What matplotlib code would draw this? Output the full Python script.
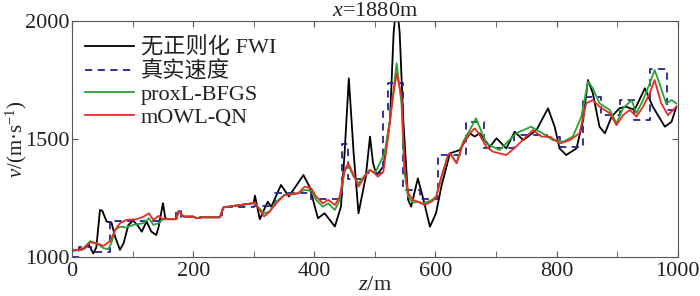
import matplotlib
matplotlib.use("Agg")
import matplotlib.pyplot as plt
from matplotlib.ticker import MultipleLocator

plt.rcParams['font.family'] = ['Liberation Serif', 'Noto Sans CJK SC', 'DejaVu Sans']
plt.rcParams['mathtext.fontset'] = 'custom'
plt.rcParams['mathtext.rm'] = 'Liberation Serif'
plt.rcParams['mathtext.it'] = 'Liberation Serif:italic'

# ---- data ----
z_fwi = [0, 10, 20, 27, 35, 40, 46, 50, 57, 65, 71, 79, 85, 93, 101, 109, 115, 123, 131, 139, 143, 150, 154,
         160, 172, 176, 184, 200, 206, 215, 244, 250, 300,
         302, 310, 323, 329, 345, 358, 382, 392, 406, 417, 434, 444, 450, 457, 465, 473, 485, 492, 497, 503,
         514, 525, 531, 536, 541, 547, 555, 560, 571, 579, 591, 601, 610, 624, 640, 657, 665, 673, 690, 701,
         717, 731, 745, 767, 786, 797, 805, 816, 833, 844, 852, 860, 871, 880, 891, 904, 915, 929, 946, 959,
         979, 990, 998]
v_fwi = [1030, 1030, 1035, 1055, 1015, 1040, 1199, 1195, 1150, 1146, 1086, 1030, 1058, 1136, 1154, 1131, 1107, 1150, 1107, 1093, 1128, 1228, 1164,
         1160, 1160, 1195, 1171, 1171, 1164, 1168, 1168, 1210, 1228,
         1260, 1160, 1234, 1213, 1305, 1256, 1347, 1298, 1164, 1185, 1129, 1213, 1439, 1757, 1439, 1185, 1340, 1510, 1397, 1347,
         1383, 1581, 1950, 2080, 1950, 1581, 1242, 1213, 1333, 1256, 1128, 1185, 1300, 1439, 1453, 1524, 1510, 1524, 1467, 1503,
         1460, 1531, 1495, 1538, 1630, 1552, 1460, 1432, 1460, 1580, 1750, 1694, 1552, 1524, 1595, 1630, 1637, 1623, 1715, 1637,
         1552, 1573, 1637]

z_true = [0, 12, 32, 62, 150, 172, 180, 205, 212, 248, 300, 335, 395, 446, 456, 485, 513, 522, 546, 575,
          605, 650, 680, 730, 785, 805, 843, 873, 905, 928, 955, 982, 1000]
v_true = [1000, 1040, 1020, 1152, 1160, 1195, 1170, 1163, 1168, 1210, 1215, 1270, 1245, 1480, 1330, 1355, 1623, 1736, 1284, 1245,
          1430, 1573, 1460, 1517, 1510, 1467, 1680, 1600, 1665, 1580, 1795, 1623, 1623]

z_prox = [0, 16, 30, 41, 52, 60, 65, 71, 79, 90, 101, 118, 127, 134, 143, 150,
          172, 176, 184, 200, 206, 215, 244, 250, 300,
          302, 317, 326, 337, 351, 368, 384, 395, 403, 414, 423, 434, 442, 450, 456, 465, 473, 483, 492, 500, 508,
          516, 525, 536, 544, 549, 555, 563, 571, 580, 593, 601, 610, 621, 624, 635, 646, 657, 667, 684, 706, 733,
          758, 777, 794, 811, 827, 841, 852, 860, 871, 888, 899, 910, 924, 932, 943, 954, 962, 970, 981, 990, 998]
v_prox = [1025, 1030, 1067, 1057, 1037, 1033, 1060, 1114, 1128, 1125, 1136, 1143, 1164, 1136, 1143, 1160,
          1160, 1195, 1171, 1171, 1164, 1168, 1168, 1210, 1228,
          1225, 1185, 1192, 1234, 1263, 1266, 1284, 1280, 1242, 1213, 1227, 1199, 1242, 1361, 1390, 1340, 1312, 1345, 1369, 1354, 1397,
          1439, 1581, 1821, 1651, 1354, 1256, 1230, 1234, 1227, 1240, 1255, 1340, 1432, 1439, 1400, 1490, 1538, 1588, 1481, 1453, 1524,
          1552, 1524, 1495, 1488, 1510, 1594, 1743, 1715, 1651, 1623, 1566, 1630, 1665, 1609, 1665, 1736, 1792, 1736, 1651, 1665, 1651]

z_mowl = [0, 16, 30, 41, 52, 63, 71, 79, 90, 107, 118, 127, 134, 143, 150,
          172, 176, 184, 200, 206, 215, 244, 250, 300,
          302, 317, 326, 337, 351, 368, 373, 384, 395, 403, 414, 423, 434, 442, 450, 456, 465, 473, 483, 492, 500, 505,
          514, 522, 530, 536, 544, 549, 555, 563, 571, 582, 593, 601, 610, 621, 624, 635, 646, 657, 665, 673, 684, 695,
          717, 733, 750, 761, 775, 789, 805, 822, 838, 849, 860, 871, 888, 899, 910, 921, 932, 943, 954, 962, 973, 984, 998]
v_mowl = [1030, 1030, 1062, 1057, 1047, 1067, 1114, 1143, 1157, 1160, 1171, 1185, 1157, 1174, 1160,
          1160, 1195, 1171, 1171, 1164, 1168, 1168, 1210, 1228,
          1230, 1171, 1192, 1227, 1263, 1270, 1268, 1298, 1291, 1256, 1227, 1242, 1220, 1256, 1369, 1397, 1347, 1298, 1340, 1369, 1354, 1340,
          1361, 1510, 1680, 1778, 1680, 1383, 1270, 1242, 1234, 1220, 1234, 1249, 1340, 1432, 1439, 1397, 1481, 1524, 1545, 1517, 1467, 1446,
          1432, 1467, 1510, 1538, 1510, 1510, 1481, 1495, 1524, 1651, 1665, 1637, 1609, 1559, 1601, 1623, 1595, 1637, 1694, 1750, 1651, 1601, 1637]

labels = ['无正则化 FWI', '真实速度', 'proxL-BFGS', 'mOWL-QN']

fig = plt.figure(figsize=(7.0, 2.96), dpi=100)
ax = fig.add_axes([0.103, 0.132, 0.865, 0.797])

ax.plot(z_fwi, v_fwi, color='black', lw=1.3, label=labels[0])
ax.plot(z_true, v_true, color='#2b1e94', lw=1.3, ls=(0, (4, 3)), drawstyle='steps-post', label=labels[1])
ax.plot(z_prox, v_prox, color='#25a531', lw=1.3, label=labels[2])
ax.plot(z_mowl, v_mowl, color='#ee2a24', lw=1.3, label=labels[3])

ax.set_xlim(0, 1000)
ax.set_ylim(1000, 2000)
ax.xaxis.set_major_locator(MultipleLocator(200))
ax.xaxis.set_minor_locator(MultipleLocator(100))
ax.yaxis.set_major_locator(MultipleLocator(500))
ax.tick_params(which='both', direction='in', top=True, right=True, labelsize=16,
               color='#555555', labelcolor='#222222')
ax.tick_params(axis='y', pad=2)
ax.tick_params(axis='x', pad=4)
ax.tick_params(which='major', length=4)
ax.tick_params(which='minor', length=4)
for s in ax.spines.values():
    s.set_color('#555555')
    s.set_linewidth(0.8)

ax.set_xlabel(r'$\mathit{z}$/m', fontsize=16, labelpad=-4, color='#222222')
ax.set_ylabel(r'$\mathit{v}$/(m·s$^{-1}$)', fontsize=15, color='#222222')
ax.yaxis.set_label_coords(-0.072, 0.5)
ax.set_title(r'$\mathit{x}$=1880m', fontsize=16, pad=0, color='#222222')

leg = ax.legend(loc='upper left', frameon=False, fontsize=16, handlelength=2.2,
                handletextpad=0.3, labelspacing=0.1, borderaxespad=0.0,
                borderpad=0.0, bbox_to_anchor=(0.022, 0.93))
for t in leg.get_texts():
    t.set_color('#222222')

fig.savefig('out.png', dpi=100)
